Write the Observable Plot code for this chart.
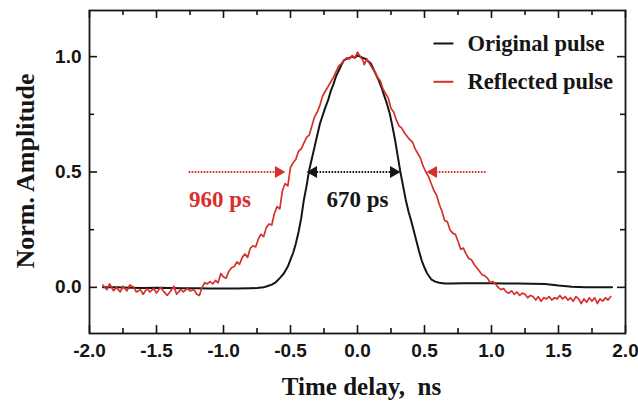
<!DOCTYPE html>
<html><head><meta charset="utf-8">
<script src="https://cdn.jsdelivr.net/npm/d3@7"></script>
<script src="https://cdn.jsdelivr.net/npm/@observablehq/plot@0.6"></script>
<style>
html,body{margin:0;padding:0;background:#fff;}
svg text{white-space:pre;}
</style></head><body><div id="chart"></div>
<script>
// Original pulse (black)
const originalTime = [-1.9,-1.8,-1.7,-1.6,-1.5,-1.4,-1.3,-1.2,-1.1,-1.0,-0.9,-0.8,-0.75,-0.7,-0.67,-0.64,-0.61,-0.58,-0.55,-0.52,-0.5,-0.48,-0.46,-0.44,-0.42,-0.40,-0.38,-0.36,-0.34,-0.32,-0.30,-0.28,-0.26,-0.24,-0.22,-0.20,-0.18,-0.16,-0.14,-0.12,-0.10,-0.08,-0.06,-0.04,-0.02,0,0.02,0.04,0.06,0.08,0.10,0.12,0.14,0.16,0.18,0.20,0.22,0.24,0.26,0.28,0.30,0.32,0.34,0.36,0.38,0.40,0.42,0.44,0.46,0.48,0.50,0.52,0.55,0.58,0.61,0.65,0.7,0.8,0.9,1.0,1.1,1.2,1.3,1.4,1.5,1.6,1.7,1.8,1.9];
const originalAmp = [0.0,0.0,-0.002,-0.003,-0.002,-0.003,-0.004,-0.004,-0.005,-0.005,-0.005,-0.004,-0.003,0.0,0.006,0.012,0.022,0.04,0.06,0.09,0.12,0.15,0.19,0.24,0.30,0.38,0.44,0.51,0.56,0.61,0.66,0.71,0.745,0.78,0.81,0.85,0.88,0.915,0.94,0.965,0.985,0.99,0.995,1.0,0.995,1.005,1.0,0.995,0.99,0.98,0.97,0.945,0.92,0.895,0.865,0.83,0.795,0.755,0.70,0.64,0.57,0.50,0.44,0.38,0.33,0.29,0.245,0.20,0.155,0.115,0.085,0.06,0.035,0.025,0.02,0.017,0.017,0.018,0.018,0.018,0.017,0.017,0.016,0.015,0.008,0.003,0.001,0.0,0.0];

// Reflected pulse (red)
const reflectedTime = [-1.90,-1.87,-1.85,-1.82,-1.80,-1.77,-1.75,-1.72,-1.70,-1.67,-1.65,-1.62,-1.60,-1.57,-1.55,-1.52,-1.50,-1.47,-1.45,-1.42,-1.40,-1.37,-1.35,-1.32,-1.30,-1.27,-1.25,-1.22,-1.20,-1.18,-1.16,-1.14,-1.12,-1.10,-1.08,-1.06,-1.04,-1.02,-1.00,-0.98,-0.96,-0.94,-0.92,-0.90,-0.88,-0.86,-0.84,-0.82,-0.80,-0.78,-0.76,-0.74,-0.72,-0.70,-0.68,-0.66,-0.64,-0.62,-0.60,-0.58,-0.56,-0.54,-0.52,-0.50,-0.48,-0.46,-0.44,-0.42,-0.40,-0.38,-0.36,-0.34,-0.32,-0.30,-0.28,-0.26,-0.24,-0.22,-0.20,-0.18,-0.16,-0.14,-0.12,-0.10,-0.08,-0.06,-0.04,-0.02,0.0,0.02,0.04,0.05,0.07,0.09,0.11,0.13,0.15,0.17,0.19,0.21,0.23,0.25,0.27,0.29,0.31,0.33,0.35,0.37,0.39,0.41,0.43,0.45,0.47,0.49,0.51,0.53,0.55,0.57,0.59,0.61,0.63,0.65,0.67,0.69,0.71,0.73,0.75,0.77,0.79,0.81,0.83,0.85,0.87,0.89,0.91,0.93,0.95,0.97,0.99,1.01,1.03,1.05,1.07,1.09,1.11,1.13,1.15,1.17,1.19,1.21,1.23,1.25,1.27,1.29,1.31,1.33,1.35,1.37,1.39,1.41,1.43,1.45,1.47,1.49,1.51,1.53,1.55,1.57,1.59,1.61,1.63,1.65,1.67,1.69,1.71,1.73,1.75,1.77,1.79,1.81,1.83,1.85,1.87,1.89];
const reflectedAmp = [0.01,-0.01,0.015,-0.015,0.0,-0.02,0.005,-0.015,0.01,0.0,-0.02,-0.01,-0.03,-0.005,-0.02,-0.005,-0.025,0.0,-0.015,-0.035,-0.02,0.005,-0.03,-0.01,-0.02,-0.005,-0.015,-0.01,-0.03,-0.035,0.0,0.02,0.015,0.025,0.015,0.03,0.02,0.06,0.045,0.04,0.07,0.085,0.09,0.11,0.10,0.13,0.145,0.13,0.17,0.18,0.175,0.21,0.23,0.22,0.26,0.275,0.27,0.32,0.35,0.34,0.42,0.45,0.44,0.52,0.54,0.555,0.59,0.60,0.625,0.65,0.66,0.70,0.74,0.76,0.79,0.83,0.85,0.87,0.89,0.91,0.935,0.96,0.97,0.985,0.995,0.99,1.005,0.995,1.02,1.0,0.985,0.965,0.99,0.97,0.95,0.935,0.91,0.895,0.86,0.84,0.82,0.775,0.76,0.725,0.70,0.69,0.67,0.655,0.64,0.63,0.60,0.58,0.56,0.525,0.50,0.48,0.45,0.42,0.40,0.36,0.33,0.29,0.285,0.25,0.235,0.23,0.20,0.165,0.17,0.145,0.125,0.12,0.10,0.085,0.07,0.055,0.05,0.04,0.02,0.025,0.015,0.0,-0.01,-0.005,-0.02,-0.025,-0.015,-0.03,-0.02,-0.035,-0.025,-0.03,-0.045,-0.035,-0.04,-0.055,-0.04,-0.06,-0.045,-0.05,-0.04,-0.055,-0.045,-0.05,-0.035,-0.05,-0.04,-0.055,-0.045,-0.06,-0.04,-0.05,-0.07,-0.05,-0.065,-0.045,-0.06,-0.045,-0.07,-0.05,-0.06,-0.045,-0.055,-0.04];

const seriesNames = ["Original pulse", "Reflected pulse"];
const xMajorTicks = [-2, -1.5, -1, -0.5, 0, 0.5, 1, 1.5, 2];
const xMinorTicks = [-1.75, -1.25, -0.75, -0.25, 0.25, 0.75, 1.25, 1.75];
const yMajorTicks = [0, 0.5, 1];
const yMinorTicks = [0.25, 0.75];
const xTitle = "Time delay,  ns";
const yTitle = "Norm. Amplitude";
const widthLabels = ["960 ps", "670 ps"];
// half-maximum arrows (ns): [from, to]
const redArrowLeft = [-1.26, -0.59];
const blackArrow = [-0.328, 0.269];
const redArrowRight = [0.955, 0.567];

const BLACK = "#151515", RED = "#d6302c";
const SERIF = "'Liberation Serif', 'Times New Roman', serif";
const SANS = "'Liberation Sans', Arial, sans-serif";

const original = originalTime.map((t, i) => ({t, a: originalAmp[i]}));
const reflected = reflectedTime.map((t, i) => ({t, a: reflectedAmp[i]}));

const FH = 402 - 10 - 69, FW = 638 - 89 - 13;
const MAJ = 8, MIN = 5;

const dashed = [
  {x1: redArrowLeft[0], x2: redArrowLeft[1], c: RED},
  {x1: blackArrow[0], x2: blackArrow[1], c: BLACK},
  {x1: redArrowRight[0], x2: redArrowRight[1], c: RED}
];
const heads = [
  {x: redArrowLeft[1], r: 90, c: RED},
  {x: blackArrow[0], r: -90, c: BLACK},
  {x: blackArrow[1], r: 90, c: BLACK},
  {x: redArrowRight[1], r: -90, c: RED}
];

const chart = Plot.plot({
  width: 638, height: 402,
  marginLeft: 89, marginRight: 13, marginTop: 10, marginBottom: 69,
  x: {domain: [-2, 2]},
  y: {domain: [-0.2, 1.2]},
  marks: [
    // inward ticks
    Plot.ruleX(xMajorTicks, {stroke: BLACK, strokeWidth: 1.6, insetTop: FH - MAJ}),
    Plot.ruleX(xMinorTicks, {stroke: BLACK, strokeWidth: 1.6, insetTop: FH - MIN}),
    Plot.ruleX(xMajorTicks, {stroke: BLACK, strokeWidth: 1.6, insetBottom: FH - MAJ}),
    Plot.ruleX(xMinorTicks, {stroke: BLACK, strokeWidth: 1.6, insetBottom: FH - MIN}),
    Plot.ruleY(yMajorTicks, {stroke: BLACK, strokeWidth: 1.6, insetRight: FW - MAJ}),
    Plot.ruleY(yMinorTicks, {stroke: BLACK, strokeWidth: 1.6, insetRight: FW - MIN}),
    Plot.ruleY(yMajorTicks, {stroke: BLACK, strokeWidth: 1.6, insetLeft: FW - MAJ}),
    Plot.ruleY(yMinorTicks, {stroke: BLACK, strokeWidth: 1.6, insetLeft: FW - MIN}),
    Plot.axisX(xMajorTicks, {tickSize: 0, tickPadding: 10, tickFormat: d => d.toFixed(1), fontSize: 19, fontWeight: "bold", fontFamily: SANS, fill: BLACK, label: null}),
    Plot.axisY(yMajorTicks, {tickSize: 0, tickPadding: 8, tickFormat: d => d.toFixed(1), fontSize: 19, fontWeight: "bold", fontFamily: SANS, fill: BLACK, label: null}),
    Plot.frame({stroke: BLACK, strokeWidth: 1.8}),
    // curves
    Plot.line(original, {x: "t", y: "a", stroke: BLACK, strokeWidth: 2}),
    Plot.line(reflected, {x: "t", y: "a", stroke: RED, strokeWidth: 1.7}),
    // FWHM arrows
    Plot.link(dashed, {x1: "x1", x2: "x2", y1: 0.5, y2: 0.5, stroke: "c", strokeWidth: 2, strokeDasharray: "1.6,1.4"}),
    Plot.dot(heads, {x: "x", y: 0.5, symbol: "triangle", rotate: "r", r: 4.5, fill: "c", stroke: "none"}),
    Plot.text([widthLabels[0]], {x: -1.026, y: 0.38, text: d => d, fill: RED, fontSize: 23, fontWeight: "bold", fontFamily: SERIF, lineAnchor: "middle"}),
    Plot.text([widthLabels[1]], {x: 0.0, y: 0.38, text: d => d, fill: BLACK, fontSize: 23, fontWeight: "bold", fontFamily: SERIF, lineAnchor: "middle"}),
    // legend
    Plot.link([{y: 1.057, c: BLACK}, {y: 0.891, c: RED}], {x1: 0.567, x2: 0.716, y1: "y", y2: "y", stroke: "c", strokeWidth: 2}),
    Plot.text(seriesNames, {x: 0.821, y: (d, i) => [1.054, 0.893][i], text: d => d, textAnchor: "start", lineAnchor: "middle", fill: BLACK, fontSize: 22.5, fontWeight: "bold", fontFamily: SERIF}),
    // axis titles
    Plot.text([xTitle], {frameAnchor: "bottom", text: d => d, textAnchor: "middle", lineAnchor: "bottom", dy: 61, dx: 4, fill: BLACK, fontSize: 25, fontWeight: "bold", fontFamily: SERIF}),
    Plot.text([yTitle], {frameAnchor: "left", text: d => d, rotate: -90, textAnchor: "middle", lineAnchor: "bottom", dx: -56, dy: -1, fill: BLACK, fontSize: 26, fontWeight: "bold", fontFamily: SERIF})
  ]
});
document.getElementById("chart").appendChild(chart);
</script></body></html>
